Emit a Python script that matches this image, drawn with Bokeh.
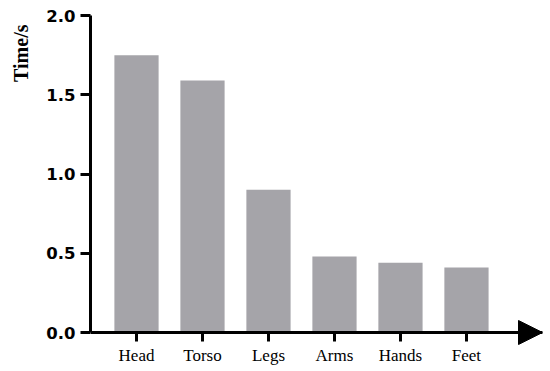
from bokeh.plotting import figure
from bokeh.models import Range1d, FixedTicker, Arrow, NormalHead, Title, ColumnDataSource
from bokeh.embed import file_html
from bokeh.resources import INLINE

categories = ["Head", "Torso", "Legs", "Arms", "Hands", "Feet"]
times = [1.75, 1.59, 0.90, 0.48, 0.44, 0.41]
y_ticks = [0.0, 0.5, 1.0, 1.5, 2.0]
y_label = "Time/s"

xs = list(range(1, len(categories) + 1))
src = ColumnDataSource(dict(x=xs, top=times))

p = figure(width=550, height=371, output_backend="svg", toolbar_location=None,
           x_range=Range1d(0.303, 7.152), y_range=Range1d(-0.246, 2.0),
           min_border_left=90, min_border_right=8, min_border_top=15, min_border_bottom=0)
p.outline_line_color = None
p.xgrid.visible = False
p.ygrid.visible = False
p.background_fill_color = "white"
p.border_fill_color = "white"

p.vbar(x="x", top="top", width=0.67, bottom=0, source=src,
       fill_color="#a5a4a9", line_color=None)

# y axis
ya = p.yaxis[0]
ya.bounds = (0, 2.0)
ya.ticker = FixedTicker(ticks=y_ticks)
ya.major_label_overrides = {t: f"{t:.1f}" for t in y_ticks}
ya.axis_line_width = 3
ya.major_tick_line_width = 3
ya.major_tick_out = 10
ya.major_tick_in = 0
ya.minor_tick_out = 0
ya.minor_tick_in = 0
ya.major_label_standoff = 5
ya.major_label_text_font = "DejaVu Sans"
ya.major_label_text_font_style = "bold"
ya.major_label_text_font_size = "16.5px"
ya.major_label_text_color = "black"

# x axis, placed at y = 0
xa = p.xaxis[0]
xa.fixed_location = 0
xa.ticker = FixedTicker(ticks=xs)
xa.major_label_overrides = {x: c for x, c in zip(xs, categories)}
xa.axis_line_width = 3
xa.major_tick_line_width = 3
xa.major_tick_out = 9
xa.major_tick_in = 0
xa.minor_tick_out = 0
xa.minor_tick_in = 0
xa.major_label_standoff = 4
xa.major_label_text_font = "Liberation Serif"
xa.major_label_text_font_size = "17px"
xa.major_label_text_color = "black"

# arrow on x axis
p.add_layout(Arrow(end=NormalHead(size=24, fill_color="black", line_color="black"),
                   x_start=6.5, y_start=0, x_end=7.152, y_end=0,
                   line_width=3, line_color="black"))

# y title at top of the left side
p.add_layout(Title(text=y_label, align="right", vertical_align="top", standoff=19, offset=9,
                   text_font="Liberation Serif", text_font_style="bold",
                   text_font_size="20px", text_color="black"), "left")

open("out.html", "w").write(file_html(p, INLINE))
